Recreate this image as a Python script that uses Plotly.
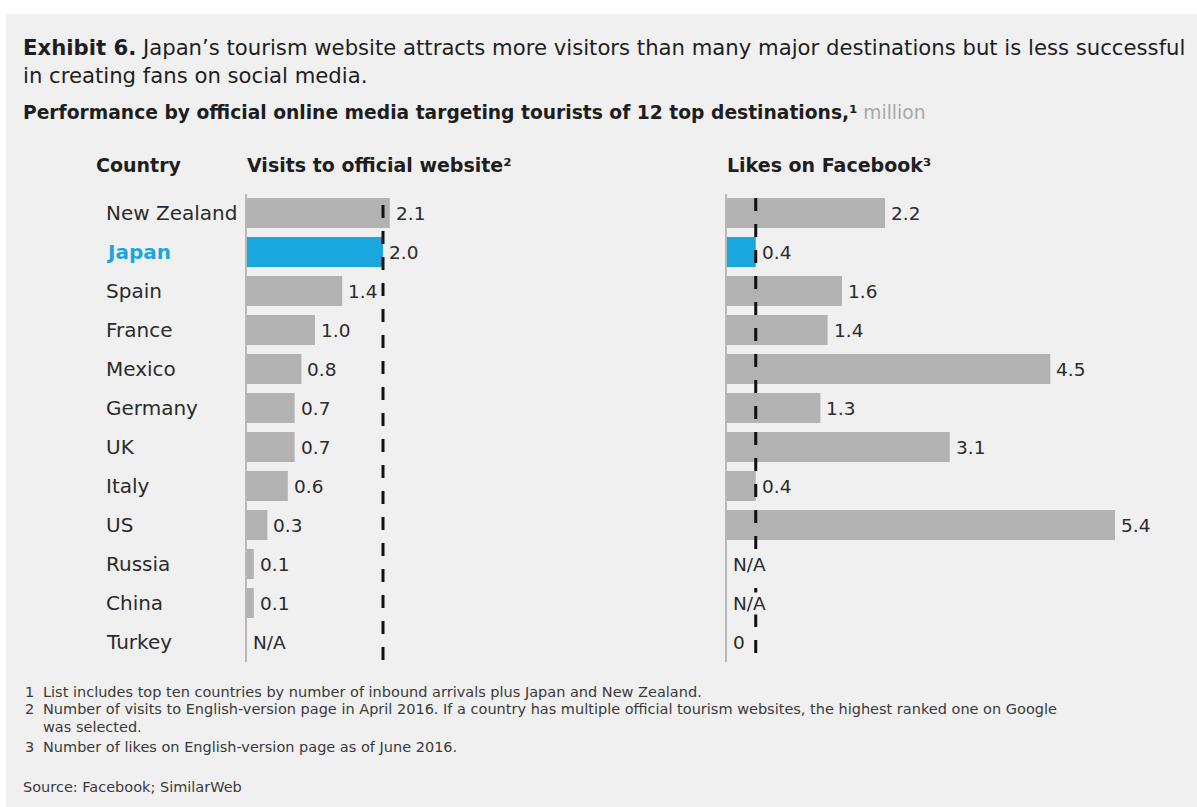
import plotly.graph_objects as go

# ---------------- data ----------------
countries = ["New Zealand", "Japan", "Spain", "France", "Mexico", "Germany",
             "UK", "Italy", "US", "Russia", "China", "Turkey"]
visits = [2.1, 2.0, 1.4, 1.0, 0.8, 0.7, 0.7, 0.6, 0.3, 0.1, 0.1, None]
likes = [2.2, 0.4, 1.6, 1.4, 4.5, 1.3, 3.1, 0.4, 5.4, None, None, 0]
highlight = "Japan"

title_bold = "Exhibit 6."
title_rest = ("Japan’s tourism website attracts more visitors than many major destinations but is less successful"
              "<br>in creating fans on social media.")
subtitle = "Performance by official online media targeting tourists of 12 top destinations,¹"
unit = "million"
header_country = "Country"
header_left = "Visits to official website²"
header_right = "Likes on Facebook³"
footnotes = [
    ("1", "List includes top ten countries by number of inbound arrivals plus Japan and New Zealand."),
    ("2", "Number of visits to English-version page in April 2016. If a country has multiple official tourism websites, the highest ranked one on Google"),
    ("", "was selected."),
    ("3", "Number of likes on English-version page as of June 2016."),
]
source = "Source: Facebook; SimilarWeb"

# ---------------- style ----------------
W, H = 1197, 807
BG = "#f0f0f0"
GREY_BAR = "#b2b2b2"
BLUE = "#1aa6de"
TXT = "#2b2b2b"
FONT = "DejaVu Sans, Liberation Sans, sans-serif"


def px_x(p):
    return p / W


def px_y(p):
    return 1 - p / H


def fmt(v):
    if v is None:
        return "N/A"
    if v == 0:
        return "0"
    return f"{v:.1f}"


colors = [BLUE if c == highlight else GREY_BAR for c in countries]
ydom = [px_y(661.5), px_y(193.5)]

fig = go.Figure()
fig.add_trace(go.Bar(y=countries, x=[v if v is not None else 0 for v in visits],
                     orientation="h", marker=dict(color=colors, line=dict(width=0)),
                     xaxis="x", yaxis="y", hoverinfo="skip"))
fig.add_trace(go.Bar(y=countries, x=[v if v is not None else 0 for v in likes],
                     orientation="h", marker=dict(color=colors, line=dict(width=0)),
                     xaxis="x2", yaxis="y2", hoverinfo="skip"))

ax_common = dict(showgrid=False, zeroline=False, showticklabels=False, ticks="", fixedrange=True)
yax_common = dict(type="category", categoryorder="array", categoryarray=countries,
                  range=[11.5, -0.5], domain=ydom, showgrid=False, zeroline=False,
                  showticklabels=False, ticks="", showline=True, linecolor="#b8b8b8",
                  linewidth=2)

fig.update_layout(
    width=W, height=H,
    margin=dict(l=0, r=0, t=0, b=0),
    paper_bgcolor="white", plot_bgcolor="rgba(0,0,0,0)",
    showlegend=False, bargap=0.23,
    font=dict(family=FONT, color=TXT),
    xaxis=dict(domain=[px_x(247), px_x(247 + 3 * 68)], range=[0, 3], **ax_common),
    xaxis2=dict(domain=[px_x(727), px_x(727 + 6 * 71.85)], range=[0, 6], **ax_common),
    yaxis=dict(anchor="x", **yax_common),
    yaxis2=dict(anchor="x2", **yax_common),
)

shapes = [
    dict(type="rect", xref="paper", yref="paper", x0=px_x(6), x1=1, y0=0, y1=px_y(14),
         fillcolor=BG, line=dict(width=0), layer="below"),
]
j = countries.index(highlight)
shapes.append(dict(type="line", xref="x", yref="paper", x0=visits[j], x1=visits[j],
                   y0=px_y(660), y1=px_y(192), line=dict(color="#111", width=3, dash="13px,13px")))
shapes.append(dict(type="line", xref="x2", yref="paper", x0=likes[j], x1=likes[j],
                   y0=px_y(653), y1=px_y(192), line=dict(color="#111", width=3, dash="13px,13px")))
fig.update_layout(shapes=shapes)

ann = []
# title
ann.append(dict(xref="paper", yref="paper", x=px_x(21), y=px_y(62), xanchor="left", yanchor="middle",
                align="left", showarrow=False,
                text=f"<b>{title_bold}</b> {title_rest}",
                font=dict(size=21.2, color="#1e1e1e")))
ann.append(dict(xref="paper", yref="paper", x=px_x(21), y=px_y(112), xanchor="left", yanchor="middle",
                showarrow=False,
                text=f"<b>{subtitle}</b> <span style='color:#a8a8a8'>{unit}</span>",
                font=dict(size=18.7, color="#1e1e1e")))
# headers
for txt, xp in [(header_country, 94), (header_left, 245), (header_right, 725)]:
    ann.append(dict(xref="paper", yref="paper", x=px_x(xp), y=px_y(165), xanchor="left",
                    yanchor="middle", showarrow=False, text=f"<b>{txt}</b>",
                    font=dict(size=19, color="#1e1e1e")))
# row labels
for c in countries:
    if c == highlight:
        t, col = f"<b>{c}</b>", BLUE
    else:
        t, col = c, TXT
    ann.append(dict(xref="paper", yref="y", x=px_x(104), y=c, xanchor="left", yanchor="middle",
                    showarrow=False, text=t, font=dict(size=20, color=col)))
# value labels
for c, v in zip(countries, visits):
    ann.append(dict(xref="x", yref="y", x=v if v else 0, y=c, xanchor="left", yanchor="middle",
                    xshift=5, showarrow=False, text=fmt(v), font=dict(size=18.5, color=TXT),
                    bgcolor=BG if v is None else None, borderpad=0))
for c, v in zip(countries, likes):
    ann.append(dict(xref="x2", yref="y2", x=v if v else 0, y=c, xanchor="left", yanchor="middle",
                    xshift=5, showarrow=False, text=fmt(v), font=dict(size=18.5, color=TXT),
                    bgcolor=BG if v is None else None, borderpad=0))
# footnotes
fy = [692, 709, 727, 747]
for (num, txt), yy in zip(footnotes, fy):
    if num:
        ann.append(dict(xref="paper", yref="paper", x=px_x(23), y=px_y(yy), xanchor="left",
                        yanchor="middle", showarrow=False, text=num, font=dict(size=14.5, color="#3a3a3a")))
    ann.append(dict(xref="paper", yref="paper", x=px_x(41), y=px_y(yy), xanchor="left",
                    yanchor="middle", showarrow=False, text=txt, font=dict(size=14.5, color="#3a3a3a")))
ann.append(dict(xref="paper", yref="paper", x=px_x(21), y=px_y(787), xanchor="left",
                yanchor="middle", showarrow=False, text=source, font=dict(size=14.5, color="#3a3a3a")))

fig.update_layout(annotations=ann)
fig.write_html("out.html")
